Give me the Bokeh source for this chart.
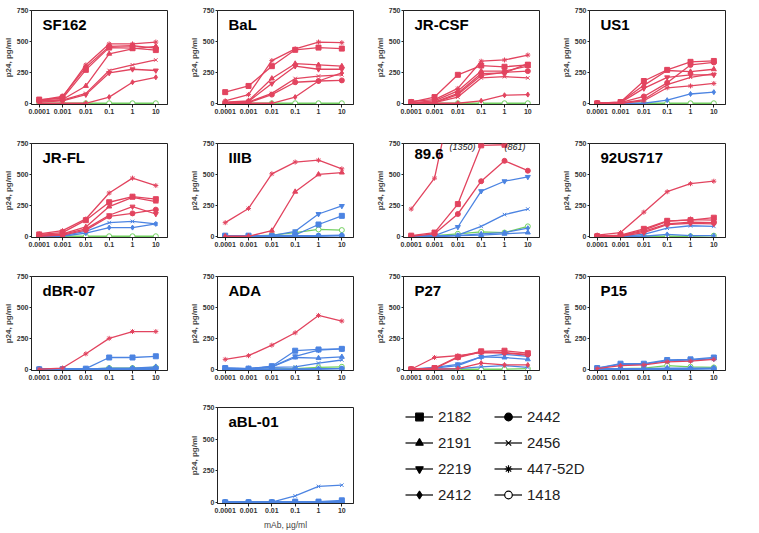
from bokeh.plotting import figure
from bokeh.models import (Range1d, FixedTicker, CustomJSTickFormatter, Label,
                          Legend, LegendItem, Spacer)
from bokeh.layouts import row, column
from bokeh.embed import file_html
from bokeh.resources import INLINE

# ---------------- data ----------------
conc = [0.0001, 0.001, 0.01, 0.1, 1, 10]
y_ticks = [0, 250, 500, 750]
series = ["2182", "2191", "2219", "2412", "2442", "2456", "447-52D", "1418"]
markers = {"2182": "square", "2191": "triangle", "2219": "inverted_triangle",
           "2412": "diamond", "2442": "circle", "2456": "x",
           "447-52D": "asterisk", "1418": "circle"}
Z = [0, 0, 0, 0, 0, 0]

SF162 = {"2182": [30, 40, 270, 450, 445, 430], "2191": [20, 30, 140, 400, 440, 460],
         "2219": [10, 20, 70, 245, 275, 265], "2412": [0, 0, 0, 50, 170, 210],
         "2442": [25, 55, 290, 460, 465, 445], "2456": [15, 25, 80, 265, 310, 350],
         "447-52D": [20, 50, 310, 480, 480, 495], "1418": Z}
SF162_c = "RRRRRRRG"

BaL = {"2182": [90, 140, 300, 432, 450, 442], "2191": [10, 20, 200, 320, 310, 300],
       "2219": [5, 15, 160, 300, 275, 275], "2412": [0, 0, 0, 50, 180, 245],
       "2442": [0, 5, 70, 170, 180, 185], "2456": [0, 10, 80, 200, 220, 230],
       "447-52D": [20, 70, 345, 440, 495, 490], "1418": Z}
BaL_c = "RRRRRRRG"

JRCSF = {"2182": [10, 50, 230, 305, 295, 310], "2191": [5, 20, 100, 260, 260, 300],
         "2219": [0, 10, 80, 240, 245, 320], "2412": [0, 0, 0, 20, 65, 70],
         "2442": [0, 5, 70, 225, 250, 260], "2456": [0, 5, 50, 205, 215, 205],
         "447-52D": [15, 30, 120, 340, 350, 390], "1418": Z}
JRCSF_c = "RRRRRRRG"

US1 = {"2182": [0, 10, 180, 270, 335, 342], "2191": [0, 10, 145, 265, 255, 275],
       "2219": [0, 5, 120, 210, 230, 230], "2412": [0, 0, 0, 25, 75, 90],
       "2442": [0, 5, 55, 165, 310, 330], "2456": [0, 0, 30, 150, 210, 240],
       "447-52D": [0, 0, 20, 125, 140, 160], "1418": Z}
US1_c = "RRRBRRRG"

JRFL = {"2182": [15, 30, 130, 275, 320, 300], "2191": [10, 20, 75, 240, 315, 280],
        "2219": [5, 15, 60, 170, 240, 180], "2412": [0, 0, 25, 70, 70, 100],
        "2442": [0, 10, 50, 160, 185, 215], "2456": [0, 5, 40, 110, 120, 100],
        "447-52D": [20, 45, 140, 350, 470, 410], "1418": Z}
JRFL_c = "RRRBRBRG"

IIIB = {"2182": [5, 5, 0, 10, 95, 165], "2191": [0, 0, 45, 360, 500, 515],
        "2219": [5, 5, 5, 40, 180, 245], "2412": [0, 0, 0, 5, 5, 10],
        "2442": [0, 0, 0, 0, 5, 5], "2456": [0, 0, 0, 0, 0, 5],
        "447-52D": [110, 225, 505, 600, 615, 545], "1418": [0, 0, 10, 30, 55, 50]}
IIIB_c = "BRBBBBRG"

V896 = {"2182": [5, 30, 260, 735, 740, 861], "2191": [0, 0, 5, 10, 20, 30],
        "2219": [0, 5, 75, 365, 445, 480], "2412": [0, 0, 5, 20, 30, 65],
        "2442": [0, 20, 180, 445, 610, 530], "2456": [0, 0, 10, 80, 175, 220],
        "447-52D": [220, 470, 1350, 1350, 1350, 1350], "1418": [0, 5, 20, 35, 30, 80]}
V896_c = "RBBBRBRG"

US717 = {"2182": [0, 10, 60, 125, 130, 150], "2191": [0, 5, 50, 120, 135, 130],
         "2219": [0, 0, 30, 95, 105, 100], "2412": [0, 0, 0, 15, 5, 5],
         "2442": [0, 5, 40, 100, 115, 110], "2456": [0, 0, 15, 65, 85, 80],
         "447-52D": [10, 30, 195, 360, 425, 445], "1418": [0, 0, 0, 0, 0, 5]}
US717_c = "RRRBRBRG"

dBR07 = {"2182": [0, 0, 5, 95, 95, 105], "2191": [0, 0, 0, 10, 10, 20],
         "2219": [0, 0, 0, 5, 5, 10], "2412": [0, 0, 0, 0, 5, 5],
         "2442": [0, 0, 0, 0, 0, 5], "2456": Z,
         "447-52D": [0, 10, 125, 250, 305, 305], "1418": [0, 0, 0, 10, 10, 15]}
dBR07_c = "BBBBBBRG"

ADA = {"2182": [10, 5, 25, 150, 160, 165], "2191": [10, 5, 20, 95, 90, 100],
       "2219": [10, 5, 20, 105, 155, 165], "2412": [0, 0, 0, 0, 5, 5],
       "2442": [0, 0, 0, 0, 0, 5], "2456": [5, 5, 15, 20, 50, 75],
       "447-52D": [80, 110, 195, 295, 435, 390], "1418": [0, 0, 0, 5, 15, 20]}
ADA_c = "BBBBBBRG"

P27 = {"2182": [0, 10, 100, 145, 150, 130], "2191": [0, 10, 30, 100, 95, 80],
       "2219": [0, 15, 40, 100, 120, 105], "2412": [0, 0, 5, 50, 35, 35],
       "2442": [0, 5, 95, 140, 135, 120], "2456": [0, 0, 5, 20, 30, 15],
       "447-52D": [0, 95, 110, 135, 130, 115], "1418": [0, 0, 0, 0, 0, 5]}
P27_c = "RBBRRBRG"

P15 = {"2182": [10, 45, 45, 75, 80, 95], "2191": [5, 5, 5, 10, 10, 10],
       "2219": [10, 40, 40, 70, 75, 85], "2412": [0, 0, 0, 5, 5, 5],
       "2442": [0, 0, 0, 0, 5, 5], "2456": [0, 0, 0, 0, 0, 5],
       "447-52D": [5, 30, 35, 60, 65, 80], "1418": [5, 5, 10, 30, 20, 15]}
P15_c = "BBBBBBRG"

aBL01 = {"2182": [0, 0, 0, 5, 5, 15], "2191": Z, "2219": Z,
         "2412": [0, 0, 0, 0, 5, 5], "2442": Z, "2456": [0, 0, 0, 50, 125, 135],
         "447-52D": [0, 0, 0, 0, 0, 5], "1418": Z}
aBL01_c = "BBBBBBBG"

# ---------------- style ----------------
COLORS = {"R": "#e2445f", "B": "#4c84e2", "G": "#72d060"}
FONT = "Liberation Sans"
W, H = 186, 133
BL, BR = 25, 19


def panel(name, data, codes, xlabel=None, notes=(), top=10):
    p = figure(width=W, height=H, x_axis_type="log",
               x_range=Range1d(10 ** -4.33, 10 ** 1.5), y_range=Range1d(-10, 750),
               output_backend="svg", toolbar_location=None,
               min_border_left=BL, min_border_right=BR,
               min_border_top=top, min_border_bottom=29)
    p.xgrid.visible = False
    p.ygrid.visible = False
    p.outline_line_color = "#222222"
    p.background_fill_color = "white"
    p.xaxis.ticker = FixedTicker(ticks=conc)
    p.xaxis.formatter = CustomJSTickFormatter(code="return tick.toString();")
    p.yaxis.ticker = FixedTicker(ticks=y_ticks)
    for ax in (p.xaxis, p.yaxis):
        ax.major_label_text_font = FONT
        ax.major_label_text_font_size = "7px"
        ax.major_label_text_font_style = "bold"
        ax.major_label_text_color = "#333333"
        ax.major_tick_out = 3
        ax.major_tick_in = 0
        ax.minor_tick_out = 0
        ax.minor_tick_in = 0
        ax.axis_line_color = "#222222"
        ax.major_tick_line_color = "#222222"
    p.yaxis.major_tick_out = 2
    p.xaxis.major_label_standoff = 1
    p.yaxis.major_label_standoff = 1
    p.yaxis.axis_label = "p24, pg/ml"
    p.yaxis.axis_label_text_font = FONT
    p.yaxis.axis_label_text_font_size = "8px"
    p.yaxis.axis_label_text_font_style = "bold"
    p.yaxis.axis_label_standoff = 1
    if xlabel:
        p.xaxis.axis_label = xlabel
        p.xaxis.axis_label_text_font = FONT
        p.xaxis.axis_label_text_font_size = "8.5px"
        p.xaxis.axis_label_text_font_style = "normal"
        p.xaxis.axis_label_standoff = 4

    order = [(s, c) for s, c in zip(series, codes)]
    rank = {"G": 0, "B": 1, "R": 2}
    order.sort(key=lambda t: rank[t[1]])
    for s, c in order:
        col = COLORS[c]
        p.line(conc, data[s], line_color=col, line_width=1.3)
        fill = "white" if s == "1418" else col
        p.scatter(conc, data[s], marker=markers[s], size=5, line_color=col,
                  fill_color=fill, line_width=1)

    p.add_layout(Label(x=10 ** -3.86, y=708, text=name, text_font=FONT,
                       text_font_size="15px", text_font_style="bold",
                       text_baseline="top", text_color="black"))
    for (nx, ny, nt) in notes:
        p.add_layout(Label(x=nx, y=ny, text=nt, text_font=FONT,
                           text_font_size="9px", text_font_style="italic",
                           text_align="center", text_baseline="middle",
                           text_color="#222222"))
    return p


panels_r1 = [panel("SF162", SF162, SF162_c), panel("BaL", BaL, BaL_c),
             panel("JR-CSF", JRCSF, JRCSF_c), panel("US1", US1, US1_c)]
panels_r2 = [panel("JR-FL", JRFL, JRFL_c), panel("IIIB", IIIB, IIIB_c),
             panel("89.6", V896, V896_c,
                   notes=[(10 ** -1.8, 718, "(1350)"), (10 ** 0.45, 718, "(861)")]),
             panel("92US717", US717, US717_c)]
panels_r3 = [panel("dBR-07", dBR07, dBR07_c), panel("ADA", ADA, ADA_c),
             panel("P27", P27, P27_c), panel("P15", P15, P15_c)]
p_abl = panel("aBL-01", aBL01, aBL01_c, xlabel="mAb, \u00b5g/ml", top=8)

# ---------------- legend panel ----------------
lg = figure(width=2 * W, height=H, x_range=Range1d(0, 1), y_range=Range1d(0, 1),
            output_backend="svg", toolbar_location=None,
            x_axis_location=None, y_axis_location=None,
            min_border_left=0, min_border_right=0,
            min_border_top=8, min_border_bottom=29)
lg.xgrid.visible = False
lg.ygrid.visible = False
lg.outline_line_color = None

items = []
for s in series:
    # hidden renderers: only their legend glyphs are shown
    rl = lg.line(conc, aBL01[s], line_color="black", line_width=1.2, visible=False)
    rs = lg.scatter(conc, aBL01[s], marker=markers[s], size=8, line_color="black",
                    fill_color="white" if s == "1418" else "black",
                    line_width=1.2, visible=False)
    items.append(LegendItem(label=s, renderers=[rl, rs]))

for k, loc in enumerate([(33, -1), (122, -1)]):
    leg = Legend(items=items[4 * k:4 * k + 4], location=loc,
                 label_text_font=FONT, label_text_font_size="15px",
                 label_text_color="#222222", label_height=19,
                 glyph_width=28, glyph_height=19, spacing=7, padding=0,
                 label_standoff=5, border_line_color=None,
                 background_fill_alpha=0, margin=0)
    lg.add_layout(leg)

layout = column(row(*panels_r1), row(*panels_r2), row(*panels_r3),
                row(Spacer(width=W, height=H), p_abl, lg))

open("out.html", "w").write(file_html(layout, INLINE))
